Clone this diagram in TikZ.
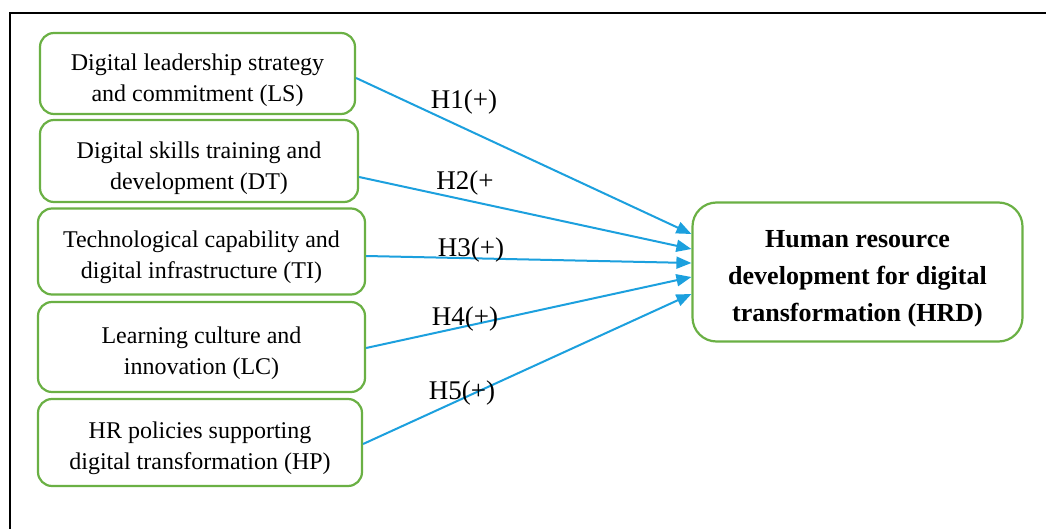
\documentclass[tikz,border=0pt]{standalone}
\usepackage{fontspec}
\setmainfont{Liberation Serif}
\usetikzlibrary{arrows.meta}
\definecolor{boxgreen}{RGB}{106,176,68}
\definecolor{arrowblue}{RGB}{28,160,222}
\tikzset{
  varbox/.style={draw=boxgreen, line width=2.2pt, rounded corners=14pt, rectangle, inner sep=0pt},
  vartext/.style={align=center, inner sep=0pt, font=\fontsize{24}{31}\selectfont},
  hrdbox/.style={draw=boxgreen, line width=2.2pt, rounded corners=24pt, rectangle, inner sep=0pt},
  hrdtext/.style={align=center, inner sep=0pt, font=\bfseries\fontsize{26}{37}\selectfont},
  hyp/.style={font=\fontsize{27}{30}\selectfont, inner sep=0pt},
  link/.style={draw=arrowblue, line width=2pt, -{Triangle[length=15pt,width=12pt]}}
}
\begin{document}
\begin{tikzpicture}[x=1pt,y=-1pt]
\useasboundingbox (0,0) rectangle (1046,529);
\fill[white] (0,0) rectangle (1046,529);
\draw[line width=2.8pt] (10,529) -- (10,13) -- (1046,13);

\node[varbox, minimum width=315pt, minimum height=81pt] (LS) at (197.5,73.5) {};
\node[vartext] (LSt) at ([yshift=-7pt]LS.center) {Digital leadership strategy\\and commitment (LS)};
\node[varbox, minimum width=318pt, minimum height=82pt] (DT) at (199,161) {};
\node[vartext] (DTt) at ([yshift=-7pt]DT.center) {Digital skills training and\\development (DT)};
\node[varbox, minimum width=327pt, minimum height=86pt] (TI) at (201.5,251.5) {};
\node[vartext] (TIt) at ([yshift=-6pt]TI.center) {Technological capability and\\digital infrastructure (TI)};
\node[varbox, minimum width=327pt, minimum height=90pt] (LC) at (201.5,347) {};
\node[vartext] (LCt) at ([yshift=-6pt]LC.center) {Learning culture and\\innovation (LC)};
\node[varbox, minimum width=324pt, minimum height=87pt] (HP) at (200,442.5) {};
\node[vartext] (HPt) at ([yshift=-6pt]HP.center) {HR policies supporting\\digital transformation (HP)};
\node[hrdbox, minimum width=330pt, minimum height=139pt] (HRD) at (857.5,272) {};
\node[hrdtext] (HRDt) at ([yshift=-7pt]HRD.center) {Human resource\\development for digital\\transformation (HRD)};

\draw[link] ([yshift=-4.5pt]LS.east) -- ([yshift=38pt]HRD.west);
\draw[link] ([yshift=-16pt]DT.east) -- ([yshift=23pt]HRD.west);
\draw[link] ([yshift=-4.5pt]TI.east) -- ([yshift=9pt]HRD.west);
\draw[link] ([yshift=-1pt]LC.east) -- ([yshift=-5pt]HRD.west);
\draw[link] ([yshift=-1.5pt]HP.east) -- ([yshift=-22pt]HRD.west);

\node[hyp] (h1) at (464,102) {H1(+)};
\node[hyp] (h2) at (465,183) {H2(+};
\node[hyp] (h3) at (471,250) {H3(+)};
\node[hyp] (h4) at (465,319) {H4(+)};
\node[hyp] (h5) at (462,393) {H5(+)};
\end{tikzpicture}
\end{document}
